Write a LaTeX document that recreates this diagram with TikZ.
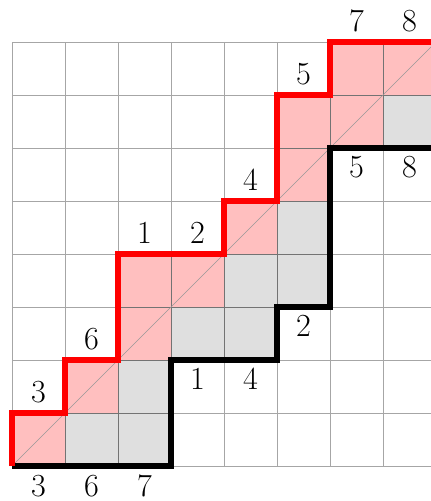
\documentclass[tikz,border=0pt]{standalone}
\usepackage{tikz}
\tikzset{
    gridline/.style={draw=gray!70, line width=0.4pt},
    upcell/.style={fill=red!25, draw=black!55, line width=0.4pt},
    downcell/.style={fill=gray!25, draw=black!55, line width=0.4pt},
    diagline/.style={draw=gray!80, line width=0.3pt},
    uppath/.style={draw=red, line width=3pt},
    downpath/.style={draw=black, line width=2.8pt},
    steplabel/.style={font=\fontsize{19}{22}\selectfont, inner sep=0pt}
}

\begin{document}
\begin{tikzpicture}
\useasboundingbox (-0.226,-0.66) rectangle (7.887,8.792);
\draw[gridline] (0,0) grid (8,8);
% cells between the diagonal and the upper path
\foreach \i/\j in {0/0,1/1,2/2,2/3,3/3,4/4,5/5,5/6,6/6,6/7,7/7}
  \draw[upcell] (\i,\j) rectangle ++(1,1);
% cells between the diagonal and the lower path
\foreach \i/\j in {1/0,2/0,2/1,3/2,4/2,4/3,5/3,5/4,7/6}
  \draw[downcell] (\i,\j) rectangle ++(1,1);
\draw[diagline] (0,0) -- (8,8);
\draw[downpath] (0,0) -| (3,2) -| (5,3) -| (6,6) -- (8,6);
\draw[uppath] (0,0) |- (1,1) |- (2,2) |- (4,4) |- (5,5) |- (6,7) |- (8,8);
% labels above the upper path
\foreach \i/\h/\t in {0/1/3,1/2/6,2/4/1,3/4/2,4/5/4,5/7/5,6/8/7,7/8/8}
  \node[steplabel] (up\i) at (\i+0.5,\h+0.4) {$\t$};
% labels below the lower path
\foreach \i/\b/\t in {0/0/3,1/0/6,2/0/7,3/2/1,4/2/4,5/3/2,6/6/5,7/6/8}
  \node[steplabel] (down\i) at (\i+0.5,\b-0.37) {$\t$};
\end{tikzpicture}
\end{document}
